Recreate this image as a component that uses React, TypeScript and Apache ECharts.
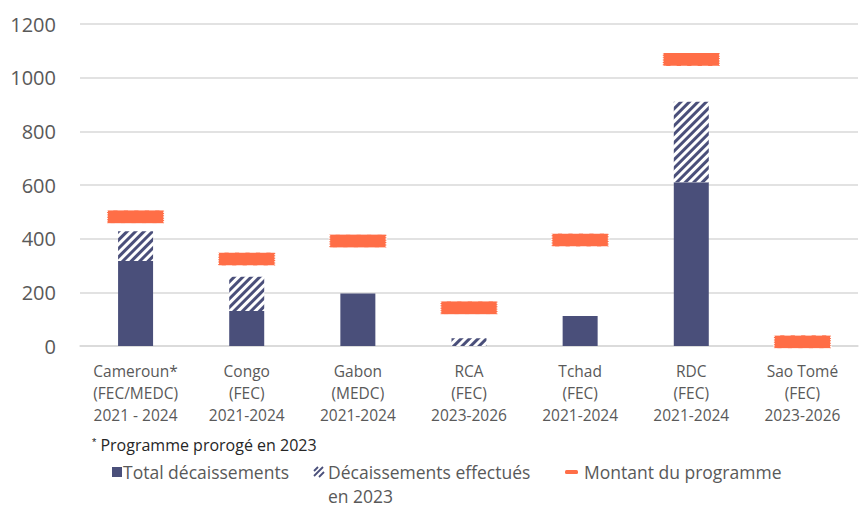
import React, { useEffect, useRef } from "react";
import * as echarts from "echarts";

const categories = [
  "Cameroun*\n(FEC/MEDC)\n2021 - 2024",
  "Congo\n(FEC)\n2021-2024",
  "Gabon\n(MEDC)\n2021-2024",
  "RCA\n(FEC)\n2023-2026",
  "Tchad\n(FEC)\n2021-2024",
  "RDC\n(FEC)\n2021-2024",
  "Sao Tomé\n(FEC)\n2023-2026",
];
const totalDecaissements = [317, 130, 196, 0, 112, 610, 0];
const decaissements2023 = [111, 128, 0, 29, 0, 300, 0];
const montantProgramme = [482, 324, 391, 143, 395, 1068, 16];
const yTicks = { min: 0, max: 1200, interval: 200 };

const NAVY = "#4a4f7a";
const ORANGE = "#ff6e47";
const TEXT = "#595959";
const FONT = "'Open Sans', sans-serif";

export default function App() {
  const ref = useRef<HTMLDivElement>(null);
  useEffect(() => {
    if (!ref.current) return;
    const chart = echarts.init(ref.current, undefined, { renderer: "svg" });
    const legendY = 472;
    const legendFont = 17.5;
    chart.setOption({
      animation: false,
      textStyle: { fontFamily: FONT },
      grid: { left: 80, right: 5, top: 24, bottom: 162 },
      xAxis: {
        type: "category",
        data: categories,
        axisLine: { show: true, lineStyle: { color: "#d9d9d9", width: 1.5 } },
        axisTick: { show: false },
        axisLabel: {
          color: TEXT,
          fontSize: 15.5,
          lineHeight: 22,
          margin: 14,
          fontFamily: FONT,
          interval: 0,
        },
      },
      yAxis: {
        type: "value",
        min: yTicks.min,
        max: yTicks.max,
        interval: yTicks.interval,
        axisLine: { show: false },
        axisTick: { show: false },
        splitLine: { lineStyle: { color: "#d9d9d9", width: 1.5 } },
        axisLabel: {
          color: TEXT,
          fontSize: 20,
          margin: 24,
          fontFamily: FONT,
          formatter: (v: number) => String(v),
        },
      },
      series: [
        {
          name: "Total décaissements",
          type: "bar",
          stack: "a",
          barWidth: 35,
          data: totalDecaissements,
          itemStyle: { color: NAVY },
        },
        {
          name: "Décaissements effectués en 2023",
          type: "bar",
          stack: "a",
          barWidth: 35,
          data: decaissements2023,
          itemStyle: {
            color: "#ffffff",
            decal: {
              symbol: "rect",
              symbolSize: 1,
              dashArrayX: [1, 0],
              dashArrayY: [2.3, 3],
              rotation: -Math.PI / 4,
              color: NAVY,
            },
          },
        },
        {
          name: "Montant du programme",
          type: "scatter",
          symbol: "rect",
          symbolSize: [57, 13],
          data: montantProgramme,
          itemStyle: {
            color: ORANGE,
            opacity: 1,
            borderColor: "#ffffff",
            borderWidth: 0.8,
            borderType: [3, 2],
          },
          z: 5,
        },
      ],
      graphic: [
        {
          type: "text",
          x: 92,
          y: 445,
          style: {
            text: "{s|*} Programme prorogé en 2023",
            rich: { s: { fontSize: 11, fill: "#262626", padding: [0, 0, 6, 0] } },
            fontSize: 16,
            fill: "#262626",
            verticalAlign: "middle",
            fontFamily: FONT,
          },
        },
        { type: "rect", shape: { x: 112, y: legendY - 5, width: 10, height: 10 }, style: { fill: NAVY } },
        {
          type: "text",
          x: 123,
          y: legendY,
          style: { text: "Total décaissements", fontSize: legendFont, fill: TEXT, verticalAlign: "middle", fontFamily: FONT },
        },
        {
          type: "group",
          x: 314,
          y: legendY - 5,
          children: [
            { type: "rect", shape: { x: 0, y: 0, width: 10, height: 10 }, style: { fill: "#ffffff" } },
            { type: "line", shape: { x1: 0, y1: 4, x2: 4, y2: 0 }, style: { stroke: NAVY, lineWidth: 1.8 } },
            { type: "line", shape: { x1: 0, y1: 9, x2: 9, y2: 0 }, style: { stroke: NAVY, lineWidth: 1.8 } },
            { type: "line", shape: { x1: 5, y1: 10, x2: 10, y2: 5 }, style: { stroke: NAVY, lineWidth: 1.8 } },
          ],
        },
        {
          type: "text",
          x: 328,
          y: legendY,
          style: {
            text: "Décaissements effectués",
            fontSize: legendFont,
            fill: TEXT,
            verticalAlign: "middle",
            fontFamily: FONT,
          },
        },
        {
          type: "text",
          x: 328,
          y: 496,
          style: {
            text: "en 2023",
            fontSize: legendFont,
            fill: TEXT,
            verticalAlign: "middle",
            fontFamily: FONT,
          },
        },
        { type: "rect", shape: { x: 565, y: legendY - 2, width: 13, height: 4, r: 1.5 }, style: { fill: ORANGE } },
        {
          type: "text",
          x: 584,
          y: legendY,
          style: { text: "Montant du programme", fontSize: legendFont, fill: TEXT, verticalAlign: "middle", fontFamily: FONT },
        },
      ],
    });
    return () => chart.dispose();
  }, []);
  return <div ref={ref} style={{ width: 863, height: 508, position: "absolute", left: 0, top: 0 }} />;
}
